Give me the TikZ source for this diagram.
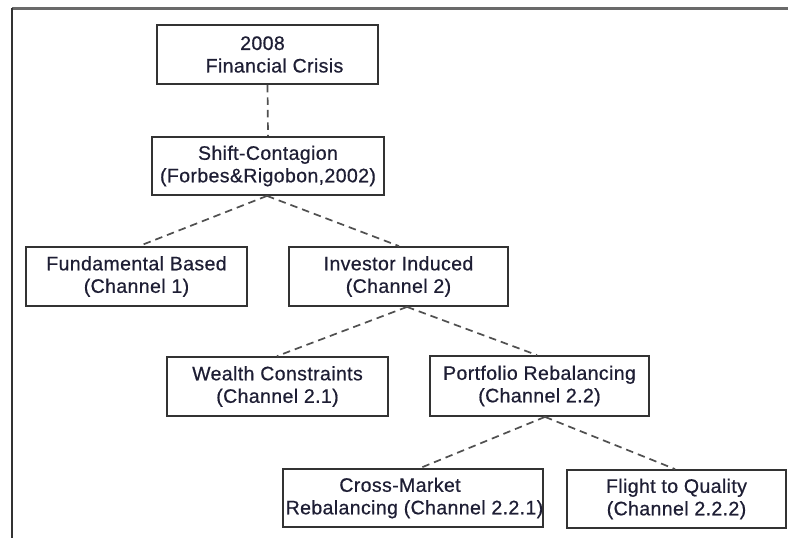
\documentclass[tikz,border=0pt]{standalone}
\usepackage{fontspec}
\setmainfont[LetterSpace=2,FakeBold=0.6]{Liberation Sans}
\definecolor{boxline}{HTML}{333333}
\definecolor{dashline}{HTML}{505050}
\definecolor{txt}{HTML}{1E1E34}
\definecolor{frameline}{HTML}{6A6A6A}
\begin{document}
\begin{tikzpicture}[x=1bp,y=-1bp,
  box/.style={draw=boxline, line width=1.8bp, rectangle, inner sep=0pt, align=center,
    text=txt, font=\fontsize{19.5bp}{22.5bp}\selectfont},
  link/.style={draw=dashline, line width=1.7bp, dash pattern=on 7.5bp off 5bp}]
\useasboundingbox (0,0) rectangle (788,538);
\fill[white] (0,0) rectangle (788,538);
% frame
\draw[frameline, line width=3bp] (12,9) -- (788,9);
\draw[boxline, line width=2bp] (12,538) -- (12,8);
% nodes
\node[box, minimum width=221bp, minimum height=59bp] (A) at (267.5,54.5)
  {2008\hspace*{10bp}\\\hspace*{14bp}Financial Crisis};
\node[box, minimum width=232bp, minimum height=58bp] (B) at (268,166)
  {Shift-Contagion\\(Forbes\&Rigobon,2002)};
\node[box, minimum width=221bp, minimum height=59bp] (C) at (136.5,276.5)
  {Fundamental Based\\(Channel 1)};
\node[box, minimum width=219bp, minimum height=59bp] (D) at (398.5,276.5)
  {Investor Induced\\(Channel 2)};
\node[box, minimum width=221bp, minimum height=59bp] (E) at (277.5,386.5)
  {Wealth Constraints\\(Channel 2.1)};
\node[box, minimum width=219bp, minimum height=60bp] (F) at (539.5,386)
  {Portfolio Rebalancing\\(Channel 2.2)};
\node[box, minimum width=260bp, minimum height=58bp] (G) at (413,498)
  {Cross-Market\hspace*{26bp}\\\hspace*{3bp}Rebalancing (Channel 2.2.1)};
\node[box, minimum width=219bp, minimum height=58bp] (H) at (676.5,499)
  {Flight to Quality\\(Channel 2.2.2)};
% connectors
\draw[link] (A.south) -- (B.north);
\draw[link] ([xshift=-1bp]B.south) -- ([xshift=2.5bp]C.north);
\draw[link] ([xshift=-1bp]B.south) -- ([xshift=0.5bp]D.north);
\draw[link] ([xshift=8.5bp]D.south) -- ([xshift=-0.5bp]E.north);
\draw[link] ([xshift=8.5bp]D.south) -- ([xshift=-2.5bp]F.north);
\draw[link] ([xshift=5.5bp]F.south) -- ([xshift=7bp]G.north);
\draw[link] ([xshift=5.5bp]F.south) -- ([xshift=-1.5bp]H.north);
\end{tikzpicture}
\end{document}
